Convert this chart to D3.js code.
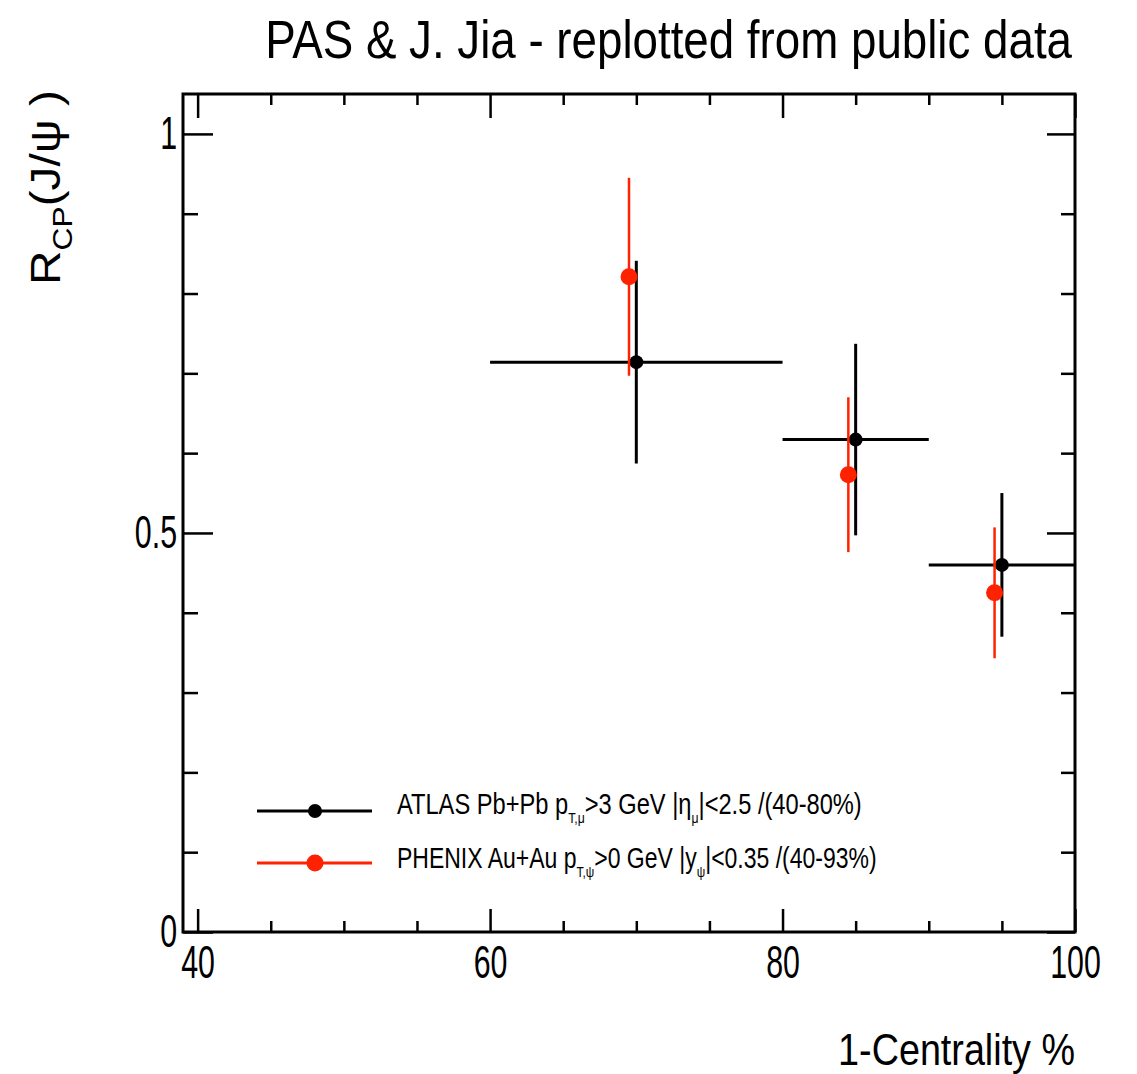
<!DOCTYPE html>
<html>
<head>
<meta charset="utf-8">
<script src="https://cdn.jsdelivr.net/npm/d3@7"></script>
<style>
    body { margin: 0; background: #fff; }
    text { font-family: "Liberation Sans", Arial, Helvetica, sans-serif; fill: #000; }
</style>
</head>
<body>
<svg id="chart" width="1137" height="1074"></svg>
<script>
// ATLAS Pb+Pb, bins in 1-centrality %
var atlasX = [70, 85, 95];
var atlasLo = [60, 80, 90];
var atlasHi = [80, 90, 100];
var atlasY = [0.714, 0.617, 0.460];
var atlasErr = [0.127, 0.120, 0.090];

// PHENIX Au+Au
var phenixX = [69.5, 84.5, 94.5];
var phenixY = [0.821, 0.573, 0.425];
var phenixErr = [0.124, 0.097, 0.082];

// ticks
var xMajor = [40, 60, 80, 100];
var xMinor = [45, 50, 55, 65, 70, 75, 85, 90, 95];
var yMajor = [0, 0.5, 1];
var yMinor = [0.1, 0.2, 0.3, 0.4, 0.6, 0.7, 0.8, 0.9];

var cfg = {
    left: 183, right: 1075, top: 94, bottom: 932,
    squeeze: 0.66
};

var svg = d3.select("#chart");

var x = d3.scaleLinear().domain([39, 100]).range([cfg.left, cfg.right]);
var y = d3.scaleLinear().domain([0, 1.05]).range([cfg.bottom, cfg.top]);

/**
 * text squeezed horizontally to a given width
 */
var label = function (tx, ty, rot, anchor, size, width) {
    var g = svg.append("g");
    var t = g.append("text")
        .attr("text-anchor", anchor)
        .attr("font-size", size);
    t.fit = function () {
        var len = t.node().getComputedTextLength();
        g.attr("transform", "translate(" + tx + "," + ty + ") rotate(" + rot + ") scale(" + (width / len) + ",1)");
        return t;
    };
    return t;
};

var sub = function (t, s, size, shift) {
    t.append("tspan").attr("font-size", size).attr("dy", shift).text(s);
    return t.append("tspan").attr("dy", -shift);
};

// frame
svg.append("rect")
    .attr("x", cfg.left).attr("y", cfg.top)
    .attr("width", cfg.right - cfg.left).attr("height", cfg.bottom - cfg.top)
    .attr("fill", "none").attr("stroke", "#000").attr("stroke-width", 3);

// tick marks on all four sides (pointing inwards)
var ticks = function (axis, vals, size, tx, ty) {
    svg.append("g")
        .attr("transform", "translate(" + tx + "," + ty + ")")
        .call(axis.tickValues(vals).tickSize(size).tickFormat(""))
        .call(function (g) { g.select(".domain").remove(); })
        .selectAll("line").attr("stroke", "#000").attr("stroke-width", 2.5);
};
ticks(d3.axisBottom(x), xMajor, -23, 0, cfg.bottom);
ticks(d3.axisBottom(x), xMinor, -11, 0, cfg.bottom);
ticks(d3.axisTop(x), xMajor, -24, 0, cfg.top);
ticks(d3.axisTop(x), xMinor, -11, 0, cfg.top);
ticks(d3.axisLeft(y), yMajor, -30, cfg.left, 0);
ticks(d3.axisLeft(y), yMinor, -15, cfg.left, 0);
ticks(d3.axisRight(y), yMajor, -28, cfg.right, 0);
ticks(d3.axisRight(y), yMinor, -14, cfg.right, 0);

// tick labels
var gx = svg.append("g")
    .attr("transform", "translate(0," + cfg.bottom + ")")
    .call(d3.axisBottom(x).tickValues(xMajor).tickSize(0).tickPadding(13).tickFormat(d3.format("d")));
gx.select(".domain").remove();
gx.selectAll("text").attr("font-size", 46).attr("font-family", null)
    .attr("transform", "scale(" + cfg.squeeze + ",1)");

var gy = svg.append("g")
    .attr("transform", "translate(" + cfg.left + ",0)")
    .call(d3.axisLeft(y).tickValues(yMajor).tickSize(0).tickPadding(9).tickFormat(function (d) { return d; }));
gy.select(".domain").remove();
gy.selectAll("text").attr("font-size", 46).attr("font-family", null)
    .attr("transform", "scale(" + cfg.squeeze + ",1)");

// title and axis titles
label(1072, 58, 0, "end", 54, 807)
    .text("PAS & J. Jia - replotted from public data").fit();

label(1075, 1065, 0, "end", 44, 237)
    .text("1-Centrality %").fit();

var yt = label(60, 285, -90, "start", 42, 195);
yt.append("tspan").text("R");
sub(yt, "CP", 28, 12).text("(J/\u03c8 )");
yt.fit();

// ATLAS: horizontal bin widths and vertical errors
var atlas = atlasX.map(function (d, i) {
    return {x: d, lo: atlasLo[i], hi: atlasHi[i], y: atlasY[i], e: atlasErr[i]};
});
var ga = svg.append("g").attr("stroke", "#000").attr("stroke-width", 3);
ga.selectAll(".h").data(atlas).enter().append("line")
    .attr("x1", function (d) { return x(d.lo); })
    .attr("x2", function (d) { return x(d.hi); })
    .attr("y1", function (d) { return y(d.y); })
    .attr("y2", function (d) { return y(d.y); });
ga.selectAll(".v").data(atlas).enter().append("line")
    .attr("x1", function (d) { return x(d.x); })
    .attr("x2", function (d) { return x(d.x); })
    .attr("y1", function (d) { return y(d.y - d.e); })
    .attr("y2", function (d) { return y(d.y + d.e); });
ga.selectAll("circle").data(atlas).enter().append("circle")
    .attr("cx", function (d) { return x(d.x); })
    .attr("cy", function (d) { return y(d.y); })
    .attr("r", 7).attr("fill", "#000").attr("stroke", "none");

// PHENIX
var phenix = phenixX.map(function (d, i) {
    return {x: d, y: phenixY[i], e: phenixErr[i]};
});
var gp = svg.append("g").attr("stroke", "#ff2200").attr("stroke-width", 2.5);
gp.selectAll("line").data(phenix).enter().append("line")
    .attr("x1", function (d) { return x(d.x); })
    .attr("x2", function (d) { return x(d.x); })
    .attr("y1", function (d) { return y(d.y - d.e); })
    .attr("y2", function (d) { return y(d.y + d.e); });
gp.selectAll("circle").data(phenix).enter().append("circle")
    .attr("cx", function (d) { return x(d.x); })
    .attr("cy", function (d) { return y(d.y); })
    .attr("r", 8.5).attr("fill", "#ff2200").attr("stroke", "none");

// legend
var legend = [
    {color: "#000", r: 7, y: 811, base: 814, width: 465},
    {color: "#ff2200", r: 8.5, y: 863, base: 868, width: 480}
];
legend.forEach(function (d, i) {
    svg.append("line")
        .attr("x1", 257).attr("x2", 372).attr("y1", d.y).attr("y2", d.y)
        .attr("stroke", d.color).attr("stroke-width", 3);
    svg.append("circle")
        .attr("cx", 315).attr("cy", d.y).attr("r", d.r).attr("fill", d.color);
    var t = label(397, d.base, 0, "start", 29, d.width);
    if (i === 0) {
        t.append("tspan").text("ATLAS Pb+Pb p");
        sub(t, "T,\u03bc", 15, 9).text(">3 GeV |\u03b7");
        sub(t, "\u03bc", 15, 9).text("|<2.5 /(40-80%)");
    } else {
        t.append("tspan").text("PHENIX Au+Au p");
        sub(t, "T,\u03c8", 15, 9).text(">0 GeV |y");
        sub(t, "\u03c8", 15, 9).text("|<0.35 /(40-93%)");
    }
    t.fit();
});
</script>
</body>
</html>
